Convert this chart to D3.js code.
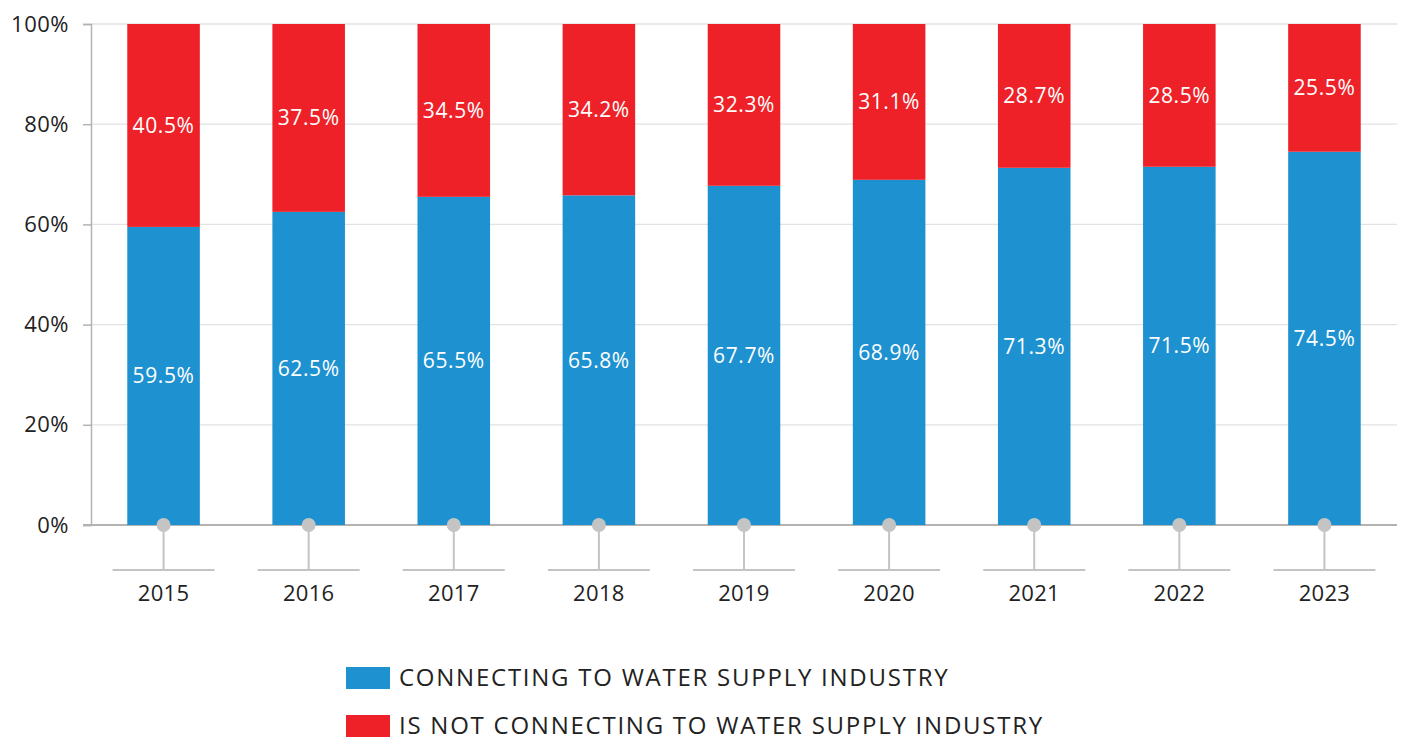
<!DOCTYPE html>
<html><head><meta charset="utf-8">
<script src="https://cdn.jsdelivr.net/npm/d3@7"></script>
<style>body{margin:0;background:#fff;} text{font-family:"Open Sans",sans-serif;}</style>
</head><body><svg id="c" width="1402" height="740"></svg>
<script>
const years = ["2015","2016","2017","2018","2019","2020","2021","2022","2023"];
const connecting = [59.5,62.5,65.5,65.8,67.7,68.9,71.3,71.5,74.5];
const notConnecting = [40.5,37.5,34.5,34.2,32.3,31.1,28.7,28.5,25.5];
const yTicks = [0,20,40,60,80,100];
const seriesNames = ["CONNECTING TO WATER SUPPLY INDUSTRY","IS NOT CONNECTING TO WATER SUPPLY INDUSTRY"];
const colors = ["#1e91d0","#ee2128"];

const svg = d3.select("#c");
const L=91,R=1397,T=24,B=525;
const x = d3.scaleBand().domain(years).range([L,R]).paddingInner(0.5).paddingOuter(0.25);
const y = d3.scaleLinear().domain([0,100]).range([B,T]);

// grid
svg.append("g").selectAll("line").data(yTicks).join("line")
  .attr("x1",L).attr("x2",R).attr("y1",d=>y(d)).attr("y2",d=>y(d))
  .attr("stroke",d=>d===0?"#b3b3b3":"#e2e2e2").attr("stroke-width",d=>d===0?2:1.3);
// y axis
const ya = svg.append("g").attr("transform",`translate(${L},0)`)
  .call(d3.axisLeft(y).tickValues(yTicks).tickFormat(d=>d+"%").tickSize(8).tickPadding(14));
ya.select(".domain").attr("stroke","#b3b3b3").attr("stroke-width",1.5);
ya.selectAll(".tick line").attr("stroke","#b3b3b3").attr("stroke-width",1.5);
ya.selectAll("text").attr("font-size",22).attr("fill","#222").attr("font-family","Open Sans").attr("letter-spacing","0.5px");
svg.append("line").attr("x1",83).attr("x2",L).attr("y1",B).attr("y2",B).attr("stroke","#b3b3b3").attr("stroke-width",2);

// bars
const data = years.map((yr,i)=>({yr,a:connecting[i],b:notConnecting[i]}));
svg.append("g").selectAll("rect").data(data).join("rect")
  .attr("x",d=>x(d.yr)).attr("width",x.bandwidth())
  .attr("y",d=>y(d.a)).attr("height",d=>y(0)-y(d.a)).attr("fill",colors[0]);
svg.append("g").selectAll("rect").data(data).join("rect")
  .attr("x",d=>x(d.yr)).attr("width",x.bandwidth())
  .attr("y",d=>y(d.a+d.b)).attr("height",d=>y(d.a)-y(d.a+d.b)).attr("fill",colors[1]);
// labels
const lab = svg.append("g").attr("fill","#fff").attr("font-size",21).attr("letter-spacing","0.6px").attr("text-anchor","middle");
lab.selectAll("text.a").data(data).join("text").attr("class","a")
  .attr("x",d=>x(d.yr)+x.bandwidth()/2).attr("y",d=>y(d.a/2)).attr("dy","0.35em").text(d=>d.a.toFixed(1)+"%");
lab.selectAll("text.b").data(data).join("text").attr("class","b")
  .attr("x",d=>x(d.yr)+x.bandwidth()/2).attr("y",d=>y(d.a+d.b/2)).attr("dy","0.35em").text(d=>d.b.toFixed(1)+"%");

// x ticks
const xt = svg.append("g").selectAll("g").data(years).join("g")
  .attr("transform",d=>`translate(${x(d)+x.bandwidth()/2},0)`);
xt.append("line").attr("y1",B).attr("y2",570).attr("stroke","#c4c4c4").attr("stroke-width",2);
xt.append("line").attr("x1",-51).attr("x2",51).attr("y1",570).attr("y2",570).attr("stroke","#c4c4c4").attr("stroke-width",2);
xt.append("circle").attr("cy",B).attr("r",7).attr("fill","#c4c4c4");
xt.append("text").attr("y",593).attr("dy","0.35em").attr("text-anchor","middle").attr("font-size",22).attr("fill","#222").attr("letter-spacing","0.3px").text(d=>d);

// legend
const lg = svg.append("g").selectAll("g").data(seriesNames).join("g")
  .attr("transform",(d,i)=>`translate(346,${667+i*48})`);
lg.append("rect").attr("width",44).attr("height",22).attr("fill",(d,i)=>colors[i]);
lg.append("text").attr("x",53).attr("y",11).attr("dy","0.35em").attr("font-size",24).attr("fill","#222").attr("letter-spacing","1.75px").text(d=>d);
</script></body></html>
